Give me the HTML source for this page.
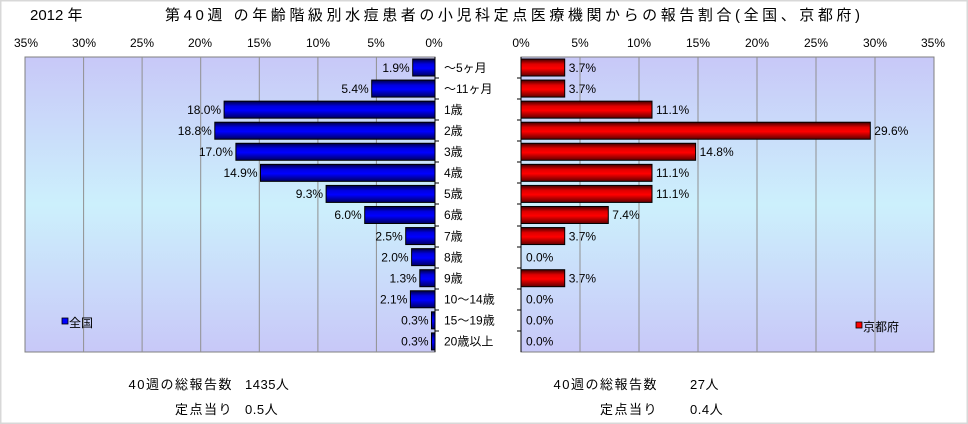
<!DOCTYPE html>
<html><head><meta charset="utf-8"><style>
html,body{margin:0;padding:0;background:#fff}
svg{display:block}
text{font-family:"Liberation Sans","Noto Sans CJK JP",sans-serif;fill:#000}
</style></head><body>
<svg width="968" height="424" viewBox="0 0 968 424" xmlns="http://www.w3.org/2000/svg">
<defs>
<linearGradient id="bg" x1="0" y1="0" x2="0" y2="1">
<stop offset="0" stop-color="#c8c8f8"/><stop offset="0.5" stop-color="#ccf0fc"/><stop offset="1" stop-color="#c8c8f8"/>
</linearGradient>
<linearGradient id="bl" x1="0" y1="0" x2="0" y2="1">
<stop offset="0" stop-color="#000040"/><stop offset="0.3" stop-color="#0000e0"/><stop offset="0.55" stop-color="#0000ff"/><stop offset="1" stop-color="#000060"/>
</linearGradient>
<linearGradient id="rd" x1="0" y1="0" x2="0" y2="1">
<stop offset="0" stop-color="#400000"/><stop offset="0.3" stop-color="#e00000"/><stop offset="0.55" stop-color="#ff0000"/><stop offset="1" stop-color="#600000"/>
</linearGradient>
</defs>
<rect x="0.5" y="0.5" width="967" height="423" fill="#fff" stroke="#d8d8d8" stroke-width="2"/>
<text x="30" y="20" font-size="15">2012 年</text>
<text x="165" y="20" font-size="15" textLength="695">第40週 の年齢階級別水痘患者の小児科定点医療機関からの報告割合(全国、京都府)</text>

<rect x="25" y="57" width="410" height="295" fill="url(#bg)" stroke="#808080"/>
<g stroke="#909090">
<line x1="83.6" y1="57" x2="83.6" y2="352"/><line x1="142.1" y1="57" x2="142.1" y2="352"/>
<line x1="200.7" y1="57" x2="200.7" y2="352"/><line x1="259.3" y1="57" x2="259.3" y2="352"/>
<line x1="317.9" y1="57" x2="317.9" y2="352"/><line x1="376.4" y1="57" x2="376.4" y2="352"/>
</g>
<line x1="435" y1="57" x2="435" y2="352" stroke="#000"/>
<g font-size="12" text-anchor="middle">
<text x="26" y="47">35%</text><text x="84" y="47">30%</text><text x="142" y="47">25%</text><text x="200" y="47">20%</text><text x="259" y="47">15%</text><text x="318" y="47">10%</text><text x="376" y="47">5%</text><text x="434" y="47">0%</text>
</g>

<rect x="521" y="57" width="413" height="295" fill="url(#bg)" stroke="#808080"/>
<g stroke="#909090">
<line x1="580" y1="57" x2="580" y2="352"/><line x1="639" y1="57" x2="639" y2="352"/>
<line x1="698" y1="57" x2="698" y2="352"/><line x1="757" y1="57" x2="757" y2="352"/>
<line x1="816" y1="57" x2="816" y2="352"/><line x1="875" y1="57" x2="875" y2="352"/>
</g>
<line x1="521" y1="57" x2="521" y2="352" stroke="#000"/>
<g font-size="12" text-anchor="middle">
<text x="521" y="47">0%</text><text x="580" y="47">5%</text><text x="639" y="47">10%</text><text x="698" y="47">15%</text><text x="757" y="47">20%</text><text x="816" y="47">25%</text><text x="875" y="47">30%</text><text x="933" y="47">35%</text>
</g>

<g stroke="#000">
<line x1="435" y1="78" x2="439" y2="78"/><line x1="435" y1="99" x2="439" y2="99"/><line x1="435" y1="120" x2="439" y2="120"/><line x1="435" y1="141" x2="439" y2="141"/><line x1="435" y1="162" x2="439" y2="162"/><line x1="435" y1="183" x2="439" y2="183"/><line x1="435" y1="204" x2="439" y2="204"/><line x1="435" y1="226" x2="439" y2="226"/><line x1="435" y1="247" x2="439" y2="247"/><line x1="435" y1="268" x2="439" y2="268"/><line x1="435" y1="289" x2="439" y2="289"/><line x1="435" y1="310" x2="439" y2="310"/><line x1="435" y1="331" x2="439" y2="331"/>
<line x1="517" y1="78" x2="521" y2="78"/><line x1="517" y1="99" x2="521" y2="99"/><line x1="517" y1="120" x2="521" y2="120"/><line x1="517" y1="141" x2="521" y2="141"/><line x1="517" y1="162" x2="521" y2="162"/><line x1="517" y1="183" x2="521" y2="183"/><line x1="517" y1="204" x2="521" y2="204"/><line x1="517" y1="226" x2="521" y2="226"/><line x1="517" y1="247" x2="521" y2="247"/><line x1="517" y1="268" x2="521" y2="268"/><line x1="517" y1="289" x2="521" y2="289"/><line x1="517" y1="310" x2="521" y2="310"/><line x1="517" y1="331" x2="521" y2="331"/>
</g>

<g fill="url(#bl)" stroke="#000">
<rect x="412.7" y="59" width="22.3" height="17"/>
<rect x="371.7" y="80.07" width="63.3" height="17"/>
<rect x="224.1" y="101.14" width="210.9" height="17"/>
<rect x="214.8" y="122.21" width="220.2" height="17"/>
<rect x="235.9" y="143.28" width="199.1" height="17"/>
<rect x="260.5" y="164.35" width="174.5" height="17"/>
<rect x="326.1" y="185.42" width="108.9" height="17"/>
<rect x="364.7" y="206.49" width="70.3" height="17"/>
<rect x="405.7" y="227.56" width="29.3" height="17"/>
<rect x="411.6" y="248.63" width="23.4" height="17"/>
<rect x="419.8" y="269.7" width="15.2" height="17"/>
<rect x="410.4" y="290.77" width="24.6" height="17"/>
<rect x="431.5" y="311.84" width="3.5" height="17"/>
<rect x="431.5" y="332.91" width="3.5" height="17"/>
</g>
<g font-size="12" text-anchor="end">
<text x="409.7" y="72">1.9%</text>
<text x="368.7" y="93">5.4%</text>
<text x="221.1" y="114">18.0%</text>
<text x="211.8" y="135">18.8%</text>
<text x="232.9" y="156">17.0%</text>
<text x="257.5" y="177">14.9%</text>
<text x="323.1" y="198">9.3%</text>
<text x="361.7" y="219">6.0%</text>
<text x="402.7" y="240.5">2.5%</text>
<text x="408.6" y="261.5">2.0%</text>
<text x="416.8" y="282.5">1.3%</text>
<text x="407.4" y="303.5">2.1%</text>
<text x="428.5" y="324.5">0.3%</text>
<text x="428.5" y="345.5">0.3%</text>
</g>
<g font-size="12">
<text x="444" y="72">～5ヶ月</text>
<text x="444" y="93">～11ヶ月</text>
<text x="444" y="114">1歳</text>
<text x="444" y="135">2歳</text>
<text x="444" y="156">3歳</text>
<text x="444" y="177">4歳</text>
<text x="444" y="198">5歳</text>
<text x="444" y="219">6歳</text>
<text x="444" y="240.5">7歳</text>
<text x="444" y="261.5">8歳</text>
<text x="444" y="282.5">9歳</text>
<text x="444" y="303.5">10～14歳</text>
<text x="444" y="324.5">15～19歳</text>
<text x="444" y="345.5">20歳以上</text>
</g>

<g fill="url(#rd)" stroke="#000">
<rect x="521" y="59" width="43.7" height="17"/>
<rect x="521" y="80.07" width="43.7" height="17"/>
<rect x="521" y="101.14" width="131" height="17"/>
<rect x="521" y="122.21" width="349.3" height="17"/>
<rect x="521" y="143.28" width="174.6" height="17"/>
<rect x="521" y="164.35" width="131" height="17"/>
<rect x="521" y="185.42" width="131" height="17"/>
<rect x="521" y="206.49" width="87.3" height="17"/>
<rect x="521" y="227.56" width="43.7" height="17"/>
<rect x="521" y="269.7" width="43.7" height="17"/>
</g>
<g font-size="12">
<text x="568.7" y="72">3.7%</text>
<text x="568.7" y="93">3.7%</text>
<text x="656" y="114">11.1%</text>
<text x="874.3" y="135">29.6%</text>
<text x="699.6" y="156">14.8%</text>
<text x="656" y="177">11.1%</text>
<text x="656" y="198">11.1%</text>
<text x="612.3" y="219">7.4%</text>
<text x="568.7" y="240.5">3.7%</text>
<text x="526" y="261.5">0.0%</text>
<text x="568.7" y="282.5">3.7%</text>
<text x="526" y="303.5">0.0%</text>
<text x="526" y="324.5">0.0%</text>
<text x="526" y="345.5">0.0%</text>
</g>

<g font-size="12">
<rect x="62" y="318" width="6" height="6" fill="#0000ff" stroke="#000" stroke-width="0.8"/>
<text x="69" y="327">全国</text>
<rect x="856" y="322" width="6" height="6" fill="#ff0000" stroke="#000" stroke-width="0.8"/>
<text x="863" y="331">京都府</text>
</g>
<g font-size="13">
<text x="233" y="389" text-anchor="end" letter-spacing="1.5">40週の総報告数</text><text x="245" y="389" letter-spacing="0.5">1435人</text>
<text x="233" y="414" text-anchor="end" letter-spacing="1.5">定点当り</text><text x="245" y="414" letter-spacing="0.5">0.5人</text>
<text x="658" y="389" text-anchor="end" letter-spacing="1.5">40週の総報告数</text><text x="690" y="389" letter-spacing="0.5">27人</text>
<text x="658" y="414" text-anchor="end" letter-spacing="1.5">定点当り</text><text x="690" y="414" letter-spacing="0.5">0.4人</text>
</g>
</svg>
</body></html>
